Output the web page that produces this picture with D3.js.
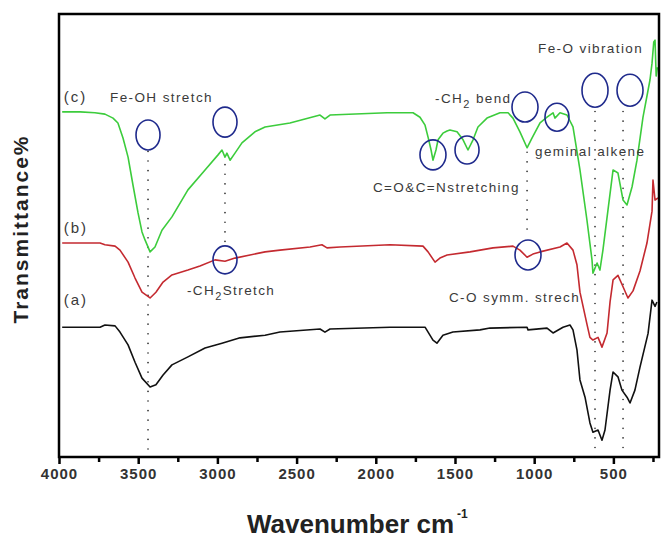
<!DOCTYPE html>
<html>
<head>
<meta charset="utf-8">
<script src="https://cdn.jsdelivr.net/npm/d3@7"></script>
<style>
  body { margin: 0; background: #fff; }
  text { font-family: "Liberation Sans", Arial, sans-serif; }
</style>
</head>
<body>
<script>
const width = 662;
const height = 538;

// [wavenumber, transmittance (a.u., stacked)]
const curveC = [
  [3980, 77.9], [3867, 77.9], [3773, 77.7], [3710, 77.4], [3659, 76.5], [3628, 75.4],
  [3596, 72.0], [3564, 67.7], [3533, 61.4], [3501, 55.1], [3476, 50.8], [3457, 49.0],
  [3425, 46.3], [3394, 47.4], [3350, 51.2], [3287, 54.2], [3186, 60.3], [3078, 64.8],
  [2996, 68.2], [2971, 69.3], [2952, 67.7], [2940, 68.6], [2920, 67.0], [2889, 68.6],
  [2845, 70.9], [2763, 73.4], [2699, 74.5], [2542, 75.4], [2352, 77.2], [2321, 76.3],
  [2289, 77.2], [1929, 77.7], [1765, 77.7], [1721, 76.7], [1689, 74.9], [1670, 72.2],
  [1651, 69.3], [1639, 67.0], [1620, 69.3], [1607, 71.6], [1576, 73.1], [1550, 73.6],
  [1532, 73.8], [1487, 73.4], [1449, 71.6], [1418, 69.3], [1386, 71.6], [1355, 74.5],
  [1298, 76.5], [1216, 77.7], [1165, 77.7], [1134, 76.5], [1090, 73.4], [1045, 69.8],
  [1014, 72.0], [963, 75.4], [919, 76.7], [881, 77.7], [869, 76.5], [837, 77.7],
  [793, 77.2], [755, 74.5], [711, 64.8], [667, 53.5], [635, 44.5], [629, 41.5],
  [603, 43.8], [585, 42.2], [566, 46.7], [534, 55.8], [502, 64.8], [471, 64.1],
  [439, 58.0], [414, 56.9], [382, 61.0], [351, 67.0], [313, 76.7], [269, 85.1],
  [256, 88.9], [245, 93.7], [237, 94.1], [230, 86.0], [222, 88.0]
];

const curveB = [
  [3980, 48.3], [3741, 48.3], [3710, 47.9], [3646, 47.6], [3615, 46.7], [3564, 44.0],
  [3520, 40.4], [3476, 37.2], [3425, 35.9], [3388, 37.2], [3343, 39.5], [3287, 41.1],
  [3186, 42.2], [3110, 43.1], [3015, 44.5], [2952, 44.2], [2889, 44.9], [2794, 45.6],
  [2699, 46.3], [2605, 46.7], [2415, 47.4], [2340, 47.9], [2308, 47.2], [2226, 47.4],
  [1910, 47.9], [1702, 47.6], [1670, 46.3], [1626, 44.0], [1595, 44.9], [1550, 45.6],
  [1405, 46.3], [1260, 47.2], [1134, 47.6], [1090, 46.7], [1045, 45.1], [1008, 45.8],
  [963, 46.3], [837, 47.4], [793, 48.3], [755, 46.7], [730, 43.4], [711, 37.2],
  [667, 30.0], [648, 27.0], [629, 26.4], [597, 27.0], [572, 24.8], [540, 28.0],
  [521, 35.0], [502, 40.0], [471, 41.0], [446, 39.0], [408, 35.9], [376, 37.5],
  [332, 42.0], [288, 48.3], [256, 55.5], [250, 62.5], [237, 58.0], [218, 58.5]
];

const curveA = [
  [3980, 29.3], [3741, 29.3], [3710, 29.8], [3646, 29.6], [3615, 28.2], [3564, 25.3],
  [3520, 21.4], [3476, 17.8], [3425, 15.8], [3388, 16.3], [3343, 18.5], [3287, 20.8],
  [3186, 22.6], [3078, 24.6], [2971, 25.7], [2857, 26.9], [2699, 27.5], [2605, 28.2],
  [2352, 28.9], [2321, 28.2], [2289, 28.9], [1910, 29.3], [1689, 29.3], [1639, 26.4],
  [1614, 25.7], [1576, 27.5], [1513, 28.2], [1342, 28.7], [1279, 29.1], [1045, 29.3],
  [1039, 28.7], [919, 29.1], [881, 28.0], [818, 29.3], [774, 29.8], [755, 28.7],
  [730, 24.2], [711, 17.4], [679, 13.5], [648, 7.7], [629, 5.6], [597, 6.1],
  [572, 3.8], [553, 6.1], [521, 15.1], [502, 19.2], [471, 18.1], [446, 15.1],
  [414, 13.5], [395, 12.2], [364, 15.1], [332, 20.3], [281, 27.9], [256, 35.4],
  [237, 34.0], [225, 35.0]
];

const majorTicks = [4000, 3500, 3000, 2500, 2000, 1500, 1000, 500];
const minorTicks = [3750, 3250, 2750, 2250, 1750, 1250, 750, 250];

// sample labels: [text, wavenumber, T]
const sampleLabels = [["(c)", 3970, 81.3], ["(b)", 3970, 51.7], ["(a)", 3970, 35.4]];

// band circles: [wavenumber, T, rx, ry]
const circles = [
  [3438, 72.7, 12, 15], [2952, 75.6, 12, 15], [2952, 44.5, 12, 14],
  [1639, 68.2, 13, 15], [1424, 69.3, 12, 14], [1058, 79.0, 13, 15],
  [856, 76.7, 12, 14], [1039, 45.6, 13, 15], [616, 82.8, 13, 17], [395, 82.8, 13, 16]
];

// dotted guides: [wavenumber, T from, T to]
const guides = [[3438, 69, 1.5], [2952, 66, 48], [1045, 68.8, 49.4], [616, 78, 0], [439, 78, 1.5]];

// annotation texts: [main, sub, tail, wavenumber, T]
const notes = [
  ["Fe-OH stretch", "", "", 3678, 81.3],
  ["-CH", "2", "Stretch", 3192, 37.7],
  ["C=O&C=Nstretching", "", "", 2018, 60.9],
  ["-CH", "2", " bend", 1626, 81.0],
  ["geminal alkene", "", "", 995, 69.1],
  ["C-O symm. strech", "", "", 1538, 36.1],
  ["Fe-O vibration", "", "", 976, 92.3]
];

const svg = d3.select("body").append("svg")
  .attr("width", width).attr("height", height);

svg.append("rect").attr("width", width).attr("height", height).attr("fill", "#fff");

const x = d3.scaleLinear().domain([4000, 212]).range([59, 659]);
const y = d3.scaleLinear().domain([0, 100]).range([457, 14]);

const line = d3.line().x(d => x(d[0])).y(d => y(d[1]));

// dotted guide lines
svg.append("g").selectAll("line").data(guides).join("line")
  .attr("x1", d => x(d[0])).attr("x2", d => x(d[0]))
  .attr("y1", d => y(d[1])).attr("y2", d => y(d[2]))
  .attr("stroke", "#222").attr("stroke-width", 1.6)
  .attr("stroke-linecap", "round")
  .attr("stroke-dasharray", "0.1,9.5");

[[curveA, "#111111"], [curveB, "#c42a30"], [curveC, "#3ccc3c"]].forEach(([data, colour]) => {
  svg.append("path").datum(data)
    .attr("d", line)
    .attr("fill", "none")
    .attr("stroke", colour)
    .attr("stroke-width", 1.6)
    .attr("stroke-linejoin", "round");
});

svg.append("g").selectAll("ellipse").data(circles).join("ellipse")
  .attr("cx", d => x(d[0])).attr("cy", d => y(d[1]))
  .attr("rx", d => d[2]).attr("ry", d => d[3])
  .attr("fill", "none").attr("stroke", "#1f2a8c").attr("stroke-width", 1.6);

svg.append("g").selectAll("text").data(sampleLabels).join("text")
  .attr("x", d => x(d[1])).attr("y", d => y(d[2]))
  .attr("dy", "0.35em")
  .attr("font-size", 15).attr("letter-spacing", 2)
  .attr("fill", "#3a3a3a")
  .text(d => d[0]);

const noteText = svg.append("g").selectAll("text").data(notes).join("text")
  .attr("x", d => x(d[3])).attr("y", d => y(d[4]))
  .attr("dy", "0.35em")
  .attr("font-size", 13.5).attr("letter-spacing", 1.4)
  .attr("fill", "#3a3a3a");
noteText.append("tspan").text(d => d[0]);
noteText.filter(d => d[1]).append("tspan")
  .attr("font-size", 11).attr("dy", 5).text(d => d[1]);
noteText.filter(d => d[2]).append("tspan")
  .attr("dy", -5).text(d => d[2]);

// frame
svg.append("rect")
  .attr("x", 59).attr("y", 14).attr("width", 600).attr("height", 443)
  .attr("fill", "none").attr("stroke", "#000").attr("stroke-width", 2.5);

const xAxis = svg.append("g")
  .attr("transform", "translate(0,457)")
  .call(d3.axisBottom(x).tickValues(majorTicks).tickSize(7).tickPadding(4).tickFormat(d3.format("d")));
xAxis.select(".domain").remove();
xAxis.selectAll("line").attr("stroke-width", 2.5);
xAxis.selectAll("text")
  .attr("font-family", "Liberation Sans, Arial, sans-serif")
  .attr("font-size", 15).attr("font-weight", "bold")
  .attr("letter-spacing", 1).attr("fill", "#333");

const xMinor = svg.append("g")
  .attr("transform", "translate(0,457)")
  .call(d3.axisBottom(x).tickValues(minorTicks).tickSize(5).tickFormat(""));
xMinor.select(".domain").remove();
xMinor.selectAll("line").attr("stroke-width", 2.5);

const xTitle = svg.append("text")
  .attr("x", 247).attr("y", 533)
  .attr("font-size", 26).attr("font-weight", "bold").attr("fill", "#222");
xTitle.append("tspan").text("Wavenumber cm");
xTitle.append("tspan").attr("font-size", 12).attr("dx", 3).attr("dy", -15).text("-1");

svg.append("text")
  .attr("transform", "translate(28,229) rotate(-90)")
  .attr("text-anchor", "middle")
  .attr("font-size", 21).attr("font-weight", "bold")
  .attr("letter-spacing", 2).attr("fill", "#222")
  .text("Transmittance%");
</script>
</body>
</html>
